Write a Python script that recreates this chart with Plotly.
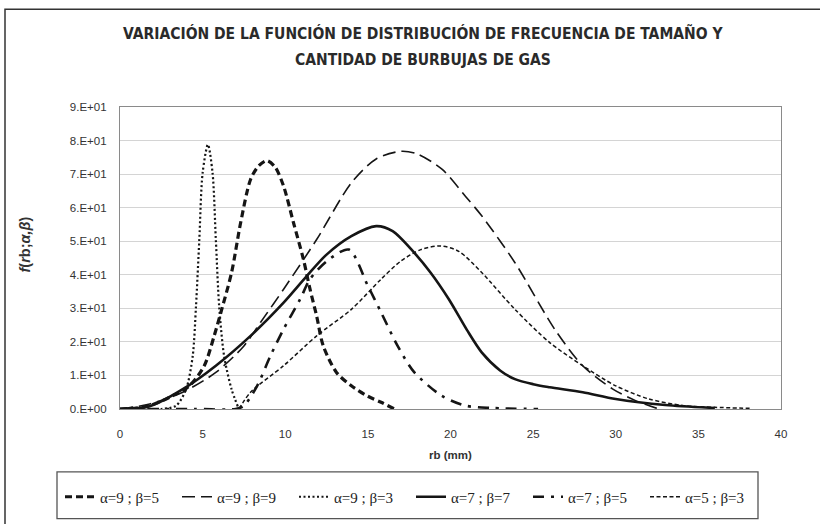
import plotly.graph_objects as go

# ---------------- data ----------------
names = ["α=9 ; β=5", "α=9 ; β=9", "α=9 ; β=3", "α=7 ; β=7", "α=7 ; β=5", "α=5 ; β=3"]

x_a9b5 = [0, 1, 1.8, 3, 4.2, 5.1, 5.7, 6.1, 6.75, 7.3, 7.9, 8.4, 8.9, 9.4, 9.9, 10.5, 11.1, 11.5, 11.9, 12.3, 13.1, 14, 15, 15.8, 16.6]
y_a9b5 = [0, 0.3, 1, 3.5, 6.9, 12.9, 21.8, 28.7, 40.6, 55.5, 68.4, 72.5, 74, 72, 66.4, 55.5, 44.6, 35.7, 27.7, 18.8, 10.9, 6.9, 3.8, 2, 0]

x_a9b9 = [0, 1.8, 3.8, 5.8, 7.5, 8.5, 9.9, 11.9, 14, 15.5, 17, 18, 19.5, 20.9, 21.9, 23.9, 26.3, 28, 29.8, 31.2, 32.6]
y_a9b9 = [0, 1.5, 5, 10.9, 18.8, 25.8, 35.7, 50.5, 67.4, 74.5, 76.8, 76, 71.4, 63.4, 57.5, 43.6, 23.8, 12.9, 6, 2.5, 0]

x_a9b3 = [0, 2.5, 3.4, 4.0, 4.4, 4.6, 4.8, 5.0, 5.32, 5.6, 5.8, 6.0, 6.3, 6.75, 7.15]
y_a9b3 = [0, 0, 1, 5.9, 15.8, 30.7, 50.5, 70.4, 78.8, 70.4, 50.5, 30.7, 15.8, 5.9, 0.5]

x_a7b7 = [0, 1.8, 3.8, 5.8, 7.9, 9.9, 11.3, 12.5, 14, 15.5, 16.5, 17.8, 18.8, 19.9, 21, 21.9, 23, 23.9, 25, 26, 28, 30, 33, 36]
y_a7b7 = [0, 0.8, 5.9, 12.9, 21.8, 31.7, 39.6, 46, 51.5, 54.5, 53, 46.6, 40.6, 32.7, 23.5, 16.8, 11.5, 8.9, 7.4, 6.5, 5, 3, 1.2, 0.3]

x_a7b5 = [0, 4.5, 7.0, 7.5, 8.3, 9.1, 9.9, 10.9, 11.5, 12.5, 13.85, 15, 15.8, 16.8, 17.8, 19.45, 20.9, 22.5, 25.3]
y_a7b5 = [0, 0, 0, 1, 6.9, 15.8, 23.8, 32.7, 38.7, 44, 47.5, 36.7, 28.8, 18.8, 11, 4, 1, 0.3, 0]

x_a5b3 = [7.2, 7.9, 9.9, 11.9, 14, 15.8, 17, 18.2, 19.4, 20.5, 21.9, 23.9, 26, 28, 30, 32, 34.1, 36, 38.1]
y_a5b3 = [0, 5, 12.9, 21.8, 29.7, 38.7, 44.1, 47.5, 48.6, 47, 40.6, 29.7, 19.8, 12.9, 6.9, 3, 1, 0.5, 0.2]

y_tickvals = [0, 10, 20, 30, 40, 50, 60, 70, 80, 90]
y_ticktext = ["0.E+00", "1.E+01", "2.E+01", "3.E+01", "4.E+01", "5.E+01", "6.E+01", "7.E+01", "8.E+01", "9.E+01"]
x_tickvals = [0, 5, 10, 15, 20, 25, 30, 35, 40]

title1 = "VARIACIÓN DE LA FUNCIÓN DE DISTRIBUCIÓN DE FRECUENCIA DE TAMAÑO Y"
title2 = "CANTIDAD DE BURBUJAS DE GAS"

# ---------------- styling ----------------
ink = "#151515"
styles = [
    dict(width=3.2, dash="7px,4px"),
    dict(width=1.6, dash="13px,6px"),
    dict(width=2.2, dash="2px,2.5px"),
    dict(width=2.6, dash="solid"),
    dict(width=2.6, dash="11px,7px,3px,7px"),
    dict(width=1.5, dash="4px,2.5px"),
]
series = [(x_a9b5, y_a9b5), (x_a9b9, y_a9b9), (x_a9b3, y_a9b3),
          (x_a7b7, y_a7b7), (x_a7b5, y_a7b5), (x_a5b3, y_a5b3)]

fig = go.Figure()
for (xs, ys), nm, st in zip(series, names, styles):
    fig.add_trace(go.Scatter(
        x=xs, y=ys, name=nm, mode="lines",
        line=dict(color=ink, width=st["width"], dash=st["dash"], shape="spline", smoothing=0.8),
        hoverinfo="skip",
    ))

L, R, T, B = 120, 39, 107, 114
W, H = 820, 524
pw, ph = W - L - R, H - T - B

def px2paper_x(px):
    return (px - L) / pw

def px2paper_y(py):
    return (H - B - py) / ph

fig.update_layout(
    width=W, height=H,
    margin=dict(l=L, r=R, t=T, b=B),
    paper_bgcolor="white", plot_bgcolor="white",
    showlegend=True,
    legend=dict(
        orientation="h",
        x=px2paper_x(60), y=px2paper_y(497), xanchor="left", yanchor="middle",
        borderwidth=0, bgcolor="rgba(0,0,0,0)",
        font=dict(family="Liberation Serif, Times New Roman, serif", size=15, color="#222"),
        entrywidth=72, itemwidth=30, tracegroupgap=0,
    ),
    xaxis=dict(
        range=[0, 40], tickvals=x_tickvals, showgrid=False, zeroline=False,
        showline=True, linecolor="#8a8a8a", linewidth=1.2, mirror=True,
        ticks="", ticklabelstandoff=14,
        tickfont=dict(family="Liberation Sans, Arial, sans-serif", size=11.5, color="#333"),
        title=dict(text="<b>rb (mm)</b>", font=dict(family="Liberation Sans, Arial, sans-serif", size=11.5, color="#333"), standoff=12),
    ),
    yaxis=dict(
        range=[0, 90], tickvals=y_tickvals, ticktext=y_ticktext,
        showgrid=True, gridcolor="#d4d4d4", gridwidth=1, zeroline=False,
        showline=True, linecolor="#8a8a8a", linewidth=1.2, mirror=True,
        ticks="", ticklabelstandoff=10,
        tickfont=dict(family="Liberation Sans, Arial, sans-serif", size=11.5, color="#333"),
    ),
    shapes=[
        dict(type="rect", xref="paper", yref="paper",
             x0=px2paper_x(5), x1=px2paper_x(840), y0=px2paper_y(540), y1=px2paper_y(9),
             line=dict(color="#333333", width=1.5), fillcolor="rgba(0,0,0,0)", layer="below"),
        dict(type="rect", xref="paper", yref="paper",
             x0=px2paper_x(57), x1=px2paper_x(758), y0=px2paper_y(520), y1=px2paper_y(473),
             line=dict(color="#555555", width=1.3), fillcolor="rgba(0,0,0,0)", layer="below"),
    ],
    annotations=[
        dict(text="<b>" + title1 + "</b>", xref="paper", yref="paper",
             x=px2paper_x(423), y=px2paper_y(33), xanchor="center", yanchor="middle", showarrow=False,
             font=dict(family="Liberation Sans Narrow, DejaVu Sans Condensed, Arial Narrow, sans-serif", size=15.5, color="#2a2a2a")),
        dict(text="<b>" + title2 + "</b>", xref="paper", yref="paper",
             x=px2paper_x(423), y=px2paper_y(60), xanchor="center", yanchor="middle", showarrow=False,
             font=dict(family="Liberation Sans Narrow, DejaVu Sans Condensed, Arial Narrow, sans-serif", size=15.5, color="#2a2a2a")),
        dict(text="<b><i>f</i>(<i>r</i>b;<i>α,β</i>)</b>", xref="paper", yref="paper",
             x=px2paper_x(25), y=px2paper_y(245), xanchor="center", yanchor="middle", showarrow=False,
             textangle=-90,
             font=dict(family="Liberation Sans, Arial, sans-serif", size=14.5, color="#333")),
    ],
)

fig.write_html("out.html")
